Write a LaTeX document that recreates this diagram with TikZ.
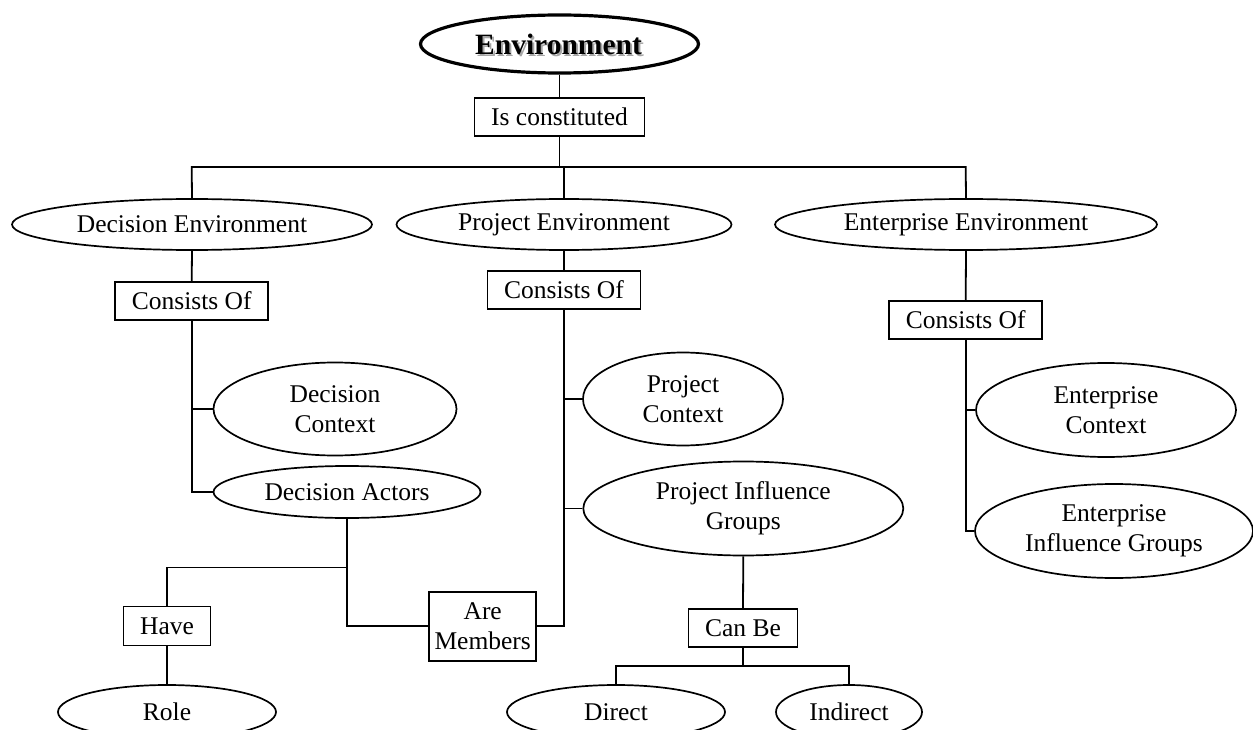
\documentclass[tikz,border=0pt]{standalone}
\usepackage{fontspec}
\setmainfont{Liberation Serif}
\usetikzlibrary{shapes.geometric}
\tikzset{
  ell/.style={ellipse, draw, line width=1.7pt, inner sep=0pt, align=center, font=\fontsize{25.5}{30}\selectfont},
  lbox/.style={rectangle, draw, line width=1.7pt, inner sep=0pt, align=center, font=\fontsize{25.5}{30}\selectfont},
  conn/.style={line width=1.8pt},
}
\begin{document}
\begin{tikzpicture}[x=1pt,y=-1pt]
\useasboundingbox (0,0) rectangle (1253,730);
% top
\node[ellipse, draw, line width=3.2pt, minimum width=278pt, minimum height=58pt, inner sep=0pt] (env) at (559.5,44) {};
\node[text=black!35, font=\fontsize{29.5}{34}\selectfont\bfseries] (envsh) at (560.5,46) {Environment};
\node[font=\fontsize{29.5}{34}\selectfont\bfseries] (envt) at (558.5,44.5) {Environment};
\node[lbox, minimum width=170pt, minimum height=38pt] (isc) at (559.5,117) {Is constituted};
% level 1
\node[ell, minimum width=360pt, minimum height=51pt] (de) at (192,224.5) {Decision Environment};
\node[ell, minimum width=335pt, minimum height=51pt] (pe) at (564,224.5) {Project Environment};
\node[ell, minimum width=382pt, minimum height=51pt] (ee) at (966,224.5) {Enterprise Environment};
% consists of
\node[lbox, minimum width=153pt, minimum height=38pt] (dco) at (191.7,301) {Consists Of};
\node[lbox, minimum width=153pt, minimum height=38pt] (pco) at (564,290) {Consists Of};
\node[lbox, minimum width=153pt, minimum height=38pt] (eco) at (965.7,320) {Consists Of};
% decision side
\node[ell, minimum width=243pt, minimum height=93pt] (dc) at (335,409) {Decision\\Context};
\node[ell, minimum width=267pt, minimum height=52pt] (da) at (347,492) {Decision Actors};
\node[lbox, minimum width=87pt, minimum height=39pt] (have) at (167,626) {Have};
\node[ell, minimum width=218pt, minimum height=54pt] (role) at (167,712) {Role};
\node[lbox, minimum width=107pt, minimum height=69pt] (am) at (482.7,626.3) {Are\\Members};
% project side
\node[ell, minimum width=200pt, minimum height=93pt] (pc) at (683,399) {Project\\Context};
\node[ell, minimum width=320pt, minimum height=94pt] (pig) at (743.3,508.5) {Project Influence\\Groups};
\node[lbox, minimum width=109pt, minimum height=38pt] (canbe) at (743,627.7) {Can Be};
\node[ell, minimum width=218pt, minimum height=54pt] (direct) at (616,712) {Direct};
\node[ell, minimum width=146pt, minimum height=54pt] (indirect) at (849,712) {Indirect};
% enterprise side
\node[ell, minimum width=260pt, minimum height=94pt] (ec) at (1106,410) {Enterprise\\Context};
\node[ell, minimum width=278pt, minimum height=94pt] (eig) at (1114,531) {Enterprise\\Influence Groups};
% junction coordinates
\coordinate (barL) at (191.7,167);
\coordinate (barR) at (965.7,167);
\coordinate (j1) at (347,567.5);
\coordinate (j2) at (743,666);
% connectors
\draw[conn] (env.south) -- (isc.north);
\draw[conn] (isc.south) -- (isc.south |- barL);
\draw[conn] (de.north) -- (barL) -- (barR) -- (ee.north);
\draw[conn] (pe.north) -- (pe.north |- barL);
\draw[conn] (de.south) -- (dco.north);
\draw[conn] (pe.south) -- (pco.north);
\draw[conn] (ee.south) -- (eco.north);
\draw[conn] (dco.south) -- (dco.south |- da.west) -- (da.west);
\draw[conn] (dco.south |- dc.west) -- (dc.west);
\draw[conn] (pco.south) -- (pco.south |- am.east) -- (am.east);
\draw[conn] (pco.south |- pc.west) -- (pc.west);
\draw[conn] (pco.south |- pig.west) -- (pig.west);
\draw[conn] (eco.south) -- (eco.south |- eig.west) -- (eig.west);
\draw[conn] (eco.south |- ec.west) -- (ec.west);
\draw[conn] (da.south) -- (da.south |- am.west) -- (am.west);
\draw[conn] (j1) -| (have.north);
\draw[conn] (have.south) -- (role.north);
\draw[conn] (pig.south) -- (canbe.north);
\draw[conn] (canbe.south) -- (canbe.south |- j2);
\draw[conn] (direct.north) -- (direct.north |- j2) -- (indirect.north |- j2) -- (indirect.north);
\end{tikzpicture}
\end{document}
